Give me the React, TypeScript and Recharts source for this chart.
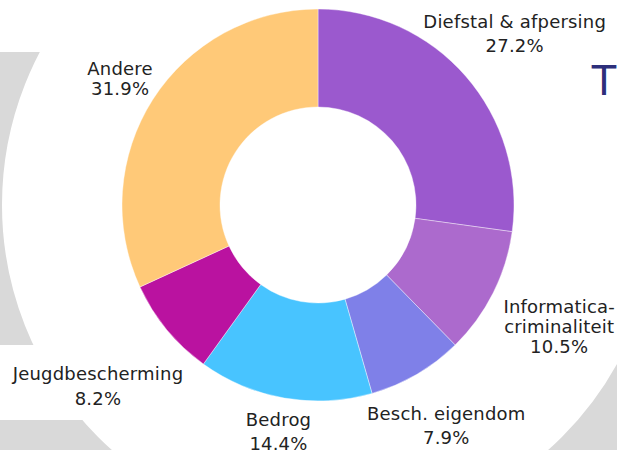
import React from "react";
import { PieChart, Pie, Cell } from "recharts";

const categories = [
  "Diefstal & afpersing",
  "Informatica-criminaliteit",
  "Besch. eigendom",
  "Bedrog",
  "Jeugdbescherming",
  "Andere",
];
const shares = [27.2, 10.5, 7.9, 14.4, 8.2, 31.9];
const colors = ["#9B59CE", "#AC6ACD", "#7F80E8", "#48C4FF", "#BA12A0", "#FFC978"];

// label layout (distance of label block centre from the pie centre, line gap)
const labelRadius = [261, 270, 255, 230, 285, 235];
const labelGap = [24, 20, 24, 24, 24.5, 20];

const data = categories.map((name, i) => ({ name, value: shares[i] }));

const RADIAN = Math.PI / 180;
const FONT = "'DejaVu Sans', sans-serif";

const splitName = (name: string): string[] => {
  const idx = name.indexOf("-");
  if (idx > 0 && idx < name.length - 1) {
    return [name.slice(0, idx + 1), name.slice(idx + 1)];
  }
  return [name];
};

const renderLabel = (props: any) => {
  const { cx, cy, midAngle, index } = props;
  const r = labelRadius[index];
  const x = cx + r * Math.cos(-midAngle * RADIAN);
  const y = cy + r * Math.sin(-midAngle * RADIAN);
  const lines = [...splitName(categories[index]), shares[index].toFixed(1) + "%"];
  const gap = labelGap[index];
  const capH = 12.8;
  const first = y + capH / 2 - ((lines.length - 1) * gap) / 2;
  return (
    <text
      key={`lbl-${index}`}
      textAnchor="middle"
      fill="#222222"
      fontFamily={FONT}
      fontSize={18}
      letterSpacing={0.2}
    >
      {lines.map((ln, i) => (
        <tspan key={i} x={x} y={first + i * gap}>
          {ln}
        </tspan>
      ))}
    </text>
  );
};

export default function App() {
  return (
    <div
      style={{
        position: "absolute",
        left: 0,
        top: 0,
        width: 617,
        height: 450,
        background: "#ffffff",
        overflow: "hidden",
      }}
    >
      <svg
        width={617}
        height={450}
        style={{ position: "absolute", left: 0, top: 0 }}
      >
        <circle cx={330} cy={205} r={528} fill="none" stroke="#D9D9D9" strokeWidth={400} />
        <rect x={0} y={0} width={617} height={52} fill="#ffffff" />
        <rect x={0} y={345} width={200} height={75} fill="#ffffff" />
        <text x={604} y={95} textAnchor="middle" fontFamily={FONT} fontSize={40} fill="#2D2F7B">
          T
        </text>
      </svg>
      <div style={{ position: "absolute", left: 0, top: 0 }}>
        <PieChart width={617} height={450} margin={{ top: 0, right: 0, bottom: 0, left: 0 }}>
          <Pie
            data={data}
            dataKey="value"
            nameKey="name"
            cx={318}
            cy={205}
            innerRadius={98}
            outerRadius={196}
            startAngle={90}
            endAngle={-270}
            stroke="#ffffff"
            strokeWidth={0.4}
            label={renderLabel}
            labelLine={false}
            isAnimationActive={false}
          >
            {data.map((d, i) => (
              <Cell key={d.name} fill={colors[i]} />
            ))}
          </Pie>
        </PieChart>
      </div>
    </div>
  );
}
